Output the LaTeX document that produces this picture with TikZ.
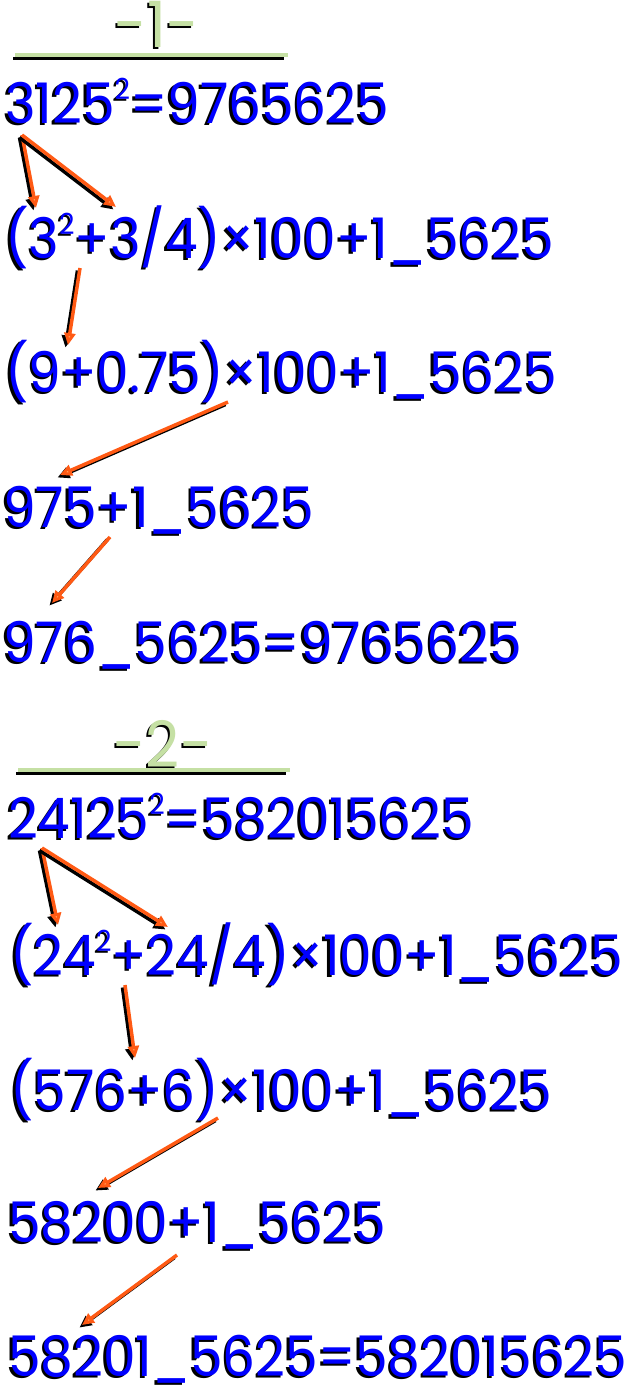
\documentclass[tikz,border=0pt]{standalone}
\usepackage{fontspec}
\setmainfont[FakeStretch=0.925]{Poppins}
\usetikzlibrary{arrows.meta,calc}
\definecolor{eqblue}{RGB}{0,0,255}
\definecolor{titlegreen}{RGB}{197,224,164}
\definecolor{arroworange}{RGB}{255,90,20}
\definecolor{headorange}{RGB}{255,165,95}
\newcommand\sqr[1]{\raisebox{0.42em}{\fontsize{29}{29}\selectfont #1}}
\newcommand\eqline[4]{%
  \node[eqshadow] at (#2-2.5,#3+2.5) {#4};
  \node[eq] (#1) at (#2,#3) {#4};}
\newcommand\titleline[4]{%
  \node[titleshadow] at (#2-2,#3+2) {#4};
  \node[titletext] (#1) at (#2,#3) {#4};}
\newcommand\conn[2]{%
  \draw[arrshadow] ($(#1)+(-2.5,2.5)$) -- ($(#2)+(-2.5,2.5)$);
  \draw[arr] (#1) -- (#2);}
\newcommand\sepline[2]{%
  \draw[ruleshadow] ($(#1)+(-2,3.5)$) -- ($(#2)+(-4,3.5)$);
  \draw[rulegreen] (#1) -- (#2);}
\begin{document}
\begin{tikzpicture}[x=1pt,y=-1pt,
  eq/.style={font=\fontsize{56}{60}\selectfont, text=eqblue, anchor=base west, inner sep=0pt},
  eqshadow/.style={eq, text=black},
  titletext/.style={font=\fontsize{64}{66}\selectfont, text=titlegreen, anchor=base, inner sep=0pt},
  titleshadow/.style={titletext, text=black},
  arr/.style={line width=3.5pt, draw=arroworange, -{Triangle[length=12pt,width=11pt,fill=headorange]}},
  arrshadow/.style={line width=3.5pt, draw=black, -{Triangle[length=12pt,width=11pt]}},
  rulegreen/.style={line width=3.5pt, draw=titlegreen},
  ruleshadow/.style={line width=3pt, draw=black}]
\fill[white] (0,0) rectangle (630,1390);
\useasboundingbox (0,0) rectangle (630,1390);
% ---- part 1
\titleline{t1}{157}{47}{-1-}
\coordinate (r1a) at (15,55);
\coordinate (r1b) at (288,55);
\sepline{r1a}{r1b}
\eqline{l1}{5}{123}{3125\sqr{2}=9765625}
\eqline{l2}{5}{258}{(3\sqr{2}+3/4)×100+1\_5625}
\eqline{l3}{5}{392}{(9+0.75)×100+1\_5625}
\eqline{l4}{3}{527}{975+1\_5625}
\eqline{l5}{3}{662}{976\_5625=9765625}
\coordinate (a1s) at (22,135);
\coordinate (a1e) at (36,208);
\coordinate (a2e) at (116,207);
\coordinate (a3s) at (80,268);
\coordinate (a3e) at (68,345);
\coordinate (a4s) at (228,402);
\coordinate (a4e) at (60,475);
\coordinate (a5s) at (110,537);
\coordinate (a5e) at (52,603);
\conn{a1s}{a1e}
\conn{a1s}{a2e}
\conn{a3s}{a3e}
\conn{a4s}{a4e}
\conn{a5s}{a5e}
% ---- part 2
\titleline{t2}{163}{767}{-2-}
\coordinate (r2a) at (18,770);
\coordinate (r2b) at (290,770);
\sepline{r2a}{r2b}
\eqline{l6}{8}{838}{24125\sqr{2}=582015625}
\eqline{l7}{10}{975}{(24\sqr{2}+24/4)×100+1\_5625}
\eqline{l8}{10}{1110}{(576+6)×100+1\_5625}
\eqline{l9}{8}{1242}{58200+1\_5625}
\eqline{l10}{8}{1376}{58201\_5625=582015625}
\coordinate (b1s) at (42,848);
\coordinate (b1e) at (58,925);
\coordinate (b2e) at (168,927);
\coordinate (b3s) at (125,985);
\coordinate (b3e) at (135,1058);
\coordinate (b4s) at (218,1118);
\coordinate (b4e) at (98,1188);
\coordinate (b5s) at (177,1255);
\coordinate (b5e) at (82,1325);
\conn{b1s}{b1e}
\conn{b1s}{b2e}
\conn{b3s}{b3e}
\conn{b4s}{b4e}
\conn{b5s}{b5e}
\end{tikzpicture}
\end{document}
